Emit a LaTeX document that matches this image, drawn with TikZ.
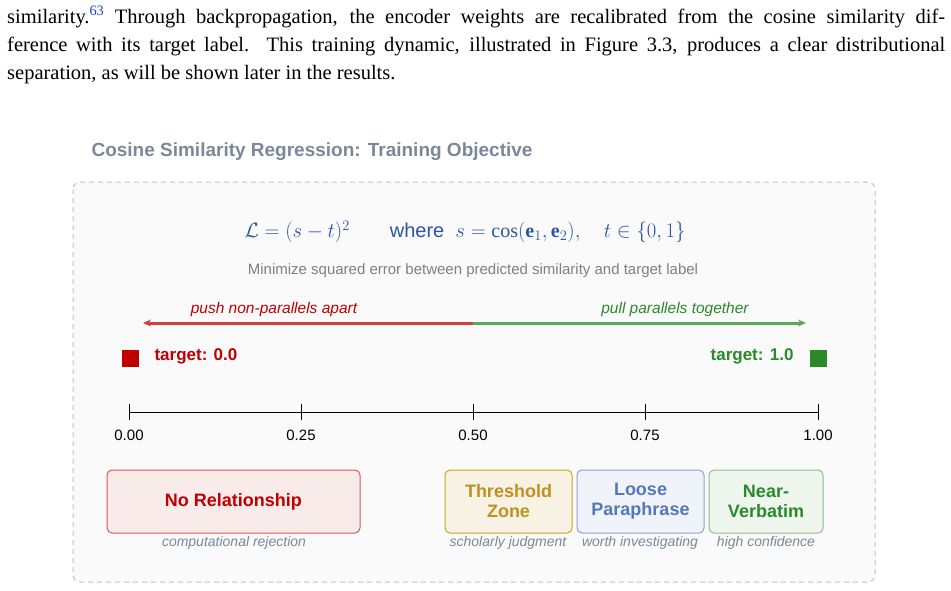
\documentclass[tikz,border=0pt]{standalone}
\usepackage{fontspec}
\usepackage{amsmath}
\usetikzlibrary{arrows.meta}
\setmainfont{Liberation Serif}
\newfontfamily\dsans{Liberation Sans}
\definecolor{rd}{HTML}{C00000}
\definecolor{gn}{HTML}{2A8A2A}
\definecolor{bl}{HTML}{2B56A6}
\definecolor{gy}{HTML}{7A8898}
\definecolor{lk}{HTML}{2040C0}
\definecolor{gold}{HTML}{C09020}
\tikzset{
 para/.style={anchor=base west,inner sep=0pt,font=\fontsize{20.5}{22}\selectfont},
 cat/.style={draw,rounded corners=5pt,line width=1pt,align=center,font=\dsans\bfseries\fontsize{18}{20}\selectfont,inner sep=0pt},
 sub/.style={font=\dsans\itshape\fontsize{14}{16}\selectfont,text=gy},
 tick/.style={line width=1pt}
}
\begin{document}
\begin{tikzpicture}[x=1pt,y=-1pt]
\useasboundingbox (0,0) rectangle (951,590);
\node[para] (l1) at (7,23) {\makebox[938pt][s]{similarity.\textsuperscript{\textcolor{lk}{63}} Through backpropagation, the encoder weights are recalibrated from the cosine similarity dif-}};
\node[para] (l2) at (7,51) {\makebox[938pt][s]{ference with its target label. This training dynamic, illustrated in Figure 3.3, produces a clear distributional}};
\node[para] (l3) at (7,79) {separation, as will be shown later in the results.};
\node[anchor=west,font=\dsans\bfseries\fontsize{19}{21}\selectfont,text=gy] (title) at (88,152) {Cosine Similarity Regression: Training Objective};
\draw[gy!50,dashed,line width=1pt,fill=black!2,rounded corners=7pt,dash pattern=on 5pt off 4pt] (73,182) rectangle (875,582);
\node[text=bl,font=\dsans\fontsize{19}{21}\selectfont] (f) at (465,232) {\fontsize{20}{22}\selectfont$\mathcal{L}=(s-t)^2$\qquad where \ $s=\cos(\mathbf{e}_1,\mathbf{e}_2),\quad t\in\{0,1\}$};
\node[text=gray,font=\dsans\fontsize{15}{17}\selectfont] (m) at (473,271) {Minimize squared error between predicted similarity and target label};
\coordinate (c) at (473,323); \coordinate (lft) at (143,323); \coordinate (rgt) at (806,323);
\draw[rd!75,line width=3pt,-{Stealth[length=8pt,width=7pt]}] (c) -- (lft);
\draw[gn!75,line width=3pt,-{Stealth[length=8pt,width=7pt]}] (c) -- (rgt);
\node[text=rd,font=\dsans\itshape\fontsize{15.5}{17}\selectfont] (pl) at (274,309) {push non-parallels apart};
\node[text=gn,font=\dsans\itshape\fontsize{15.5}{17}\selectfont] (pr) at (675,309) {pull parallels together};
\node[fill=rd,minimum size=17pt,inner sep=0pt] (sq1) at (130,358) {};
\node[fill=gn,minimum size=17pt,inner sep=0pt] (sq2) at (818,358) {};
\node[anchor=west,text=rd,font=\dsans\bfseries\fontsize{17}{19}\selectfont] (t0) at (151,356) {target: 0.0};
\node[anchor=east,text=gn,font=\dsans\bfseries\fontsize{17}{19}\selectfont] (t1) at (797,356) {target: 1.0};
\coordinate (a0) at (129,412); \coordinate (a1) at (818,412);
\draw[tick] (a0) -- (a1);
\foreach \x/\l in {129/0.00,301/0.25,473/0.50,645/0.75,818/1.00}{
 \draw[tick] (\x,404) -- (\x,420);
 \node[font=\dsans\fontsize{15}{17}\selectfont] at (\x,435) {\l};
}
\node[cat,draw=rd!65,fill=rd!8,text=rd,minimum width=253pt,minimum height=63pt] (nr) at (233.5,501.5) {No Relationship};
\node[cat,draw=gold!80!yellow,fill=gold!12,text=gold,minimum width=127pt,minimum height=63pt] (th) at (508.5,501.5) {Threshold\\Zone};
\node[cat,draw=bl!55,fill=bl!7,text=bl!80,minimum width=127pt,minimum height=63pt] (lp) at (640.5,501.5) {Loose\\Paraphrase};
\node[cat,draw=gn!55,fill=gn!8,text=gn,minimum width=114pt,minimum height=63pt] (nv) at (766,501.5) {Near-\\Verbatim};
\node[sub] at (234,543) {computational rejection};
\node[sub] at (508,543) {scholarly judgment};
\node[sub] at (640,543) {worth investigating};
\node[sub] at (766,543) {high confidence};
\end{tikzpicture}
\end{document}
